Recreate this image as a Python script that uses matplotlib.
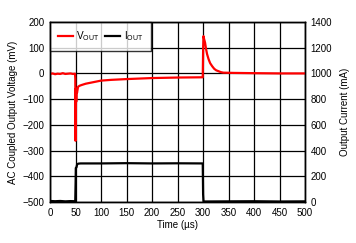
import matplotlib
matplotlib.use("Agg")
import matplotlib.pyplot as plt

# V_OUT trace (mV, AC coupled) vs time (us)
vout_t = [0, 5, 10, 15, 20, 25, 30, 35, 40, 45, 49, 49.6, 50.0, 50.3, 50.6, 51.0, 51.4,
          52, 53, 55, 58, 62, 70, 80, 90, 100, 120, 150, 175, 200, 250, 299.5,
          300.3, 301, 302, 304, 306, 308, 311, 314, 318, 322, 326, 330, 335, 340,
          360, 400, 450, 500]
vout_v = [-2, 0, -3, -1, -2, 1, -2, -1, 0, -2, -1, -20, -262, -60, -200, -70, -110,
          -60, -75, -52, -48, -45, -40, -36, -32, -28, -25, -22, -20, -18, -16, -15,
          100, 145, 135, 120, 95, 75, 55, 40, 28, 18, 12, 9, 5, 3,
          2, 1, 0, 0]

# I_OUT trace (mA) vs time (us)
iout_t = [0, 10, 20, 30, 40, 49.5, 50.2, 50.6, 52, 53, 55, 60, 100, 150, 200, 250,
          299.5, 300.2, 301, 350, 400, 450, 500]
iout_i = [8, 6, 8, 5, 7, 6, 150, 265, 270, 290, 298, 300, 300, 302, 300, 301,
          300, 60, 4, 5, 6, 4, 5]

RED = "#ff0000"
INK = "#000000"

plt.rcParams.update({
    "font.family": ["Liberation Sans", "DejaVu Sans"],
    "font.size": 7,
    "mathtext.fontset": "custom",
    "mathtext.rm": "Liberation Sans",
})

fig = plt.figure(figsize=(3.56, 2.43), dpi=100)
ax = fig.add_axes([50 / 356, 41 / 243, 255 / 356, 180 / 243])
ax2 = ax.twinx()

ax.plot(vout_t, vout_v, color=RED, linewidth=1.6, label=r"V$_{\mathregular{OUT}}$", zorder=3)
ax2.plot(iout_t, iout_i, color=INK, linewidth=1.6, zorder=3)
ax.plot([], [], color=INK, linewidth=1.6, label=r"I$_{\mathregular{OUT}}$")

ax.set_xlim(0, 500)
ax.set_ylim(-500, 200)
ax2.set_ylim(0, 1400)
ax.set_xticks(range(0, 501, 50))
ax.set_yticks(range(-500, 201, 100))
ax2.set_yticks(range(0, 1401, 200))

ax.grid(True, color=INK, linewidth=0.9)
ax.set_axisbelow(True)
for a in (ax, ax2):
    for s in a.spines.values():
        s.set_color(INK)
        s.set_linewidth(1.0)
    a.tick_params(length=0, pad=4, labelsize=7)

ax.set_xlabel("Time (µs)", fontsize=7, labelpad=2)
ax.set_ylabel("AC Coupled Output Voltage (mV)", fontsize=7, labelpad=3)
ax2.set_ylabel("Output Current (mA)", fontsize=7, labelpad=6)

leg = ax.legend(loc="upper left", ncol=2, frameon=True, fancybox=False,
                edgecolor=INK, borderaxespad=0, handlelength=1.5,
                handletextpad=0.4, columnspacing=0.5, fontsize=7.2,
                borderpad=0.75)
leg.get_frame().set_linewidth(1.0)
leg.set_zorder(5)

fig.savefig("out.png", dpi=100)
